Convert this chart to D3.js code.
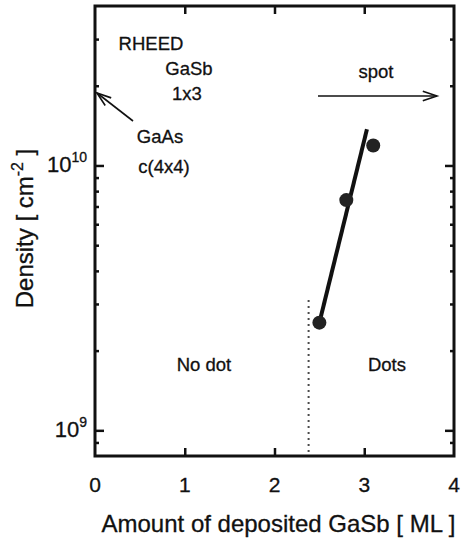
<!DOCTYPE html>
<html>
<head>
<meta charset="utf-8">
<script src="https://cdn.jsdelivr.net/npm/d3@7"></script>
<style>
  html, body { margin: 0; padding: 0; background: #fff; }
  svg { display: block; font-family: "Liberation Sans", Arial, Helvetica, sans-serif; }
</style>
</head>
<body>
<svg id="chart" width="461" height="542"></svg>
<script>
// ---- data ----
const xTicks = [0, 1, 2, 3, 4];
const yMajorTicks = [1e9, 1e10];
const yMinorTicks = [9e8, 2e9, 3e9, 4e9, 5e9, 6e9, 7e9, 8e9, 9e9, 2e10, 3e10];
const pointX = [2.5, 2.8, 3.1];
const pointY = [2.55e9, 7.4e9, 1.19e10];
const fitX = [2.5, 3.03];
const fitY = [2.55e9, 1.37e10];
const boundaryX = [2.38, 2.38];
const boundaryY = [3.1e9, 8e8];
const xDomain = [0, 4];
const yDomain = [8e8, 4e10];

// ---- layout ----
const L = 95, R = 454, T = 6, B = 456;
const svg = d3.select("#chart");
const x = d3.scaleLinear().domain(xDomain).range([L, R]);
const y = d3.scaleLog().domain(yDomain).range([B, T]);

const ink = "#111";

// ticks (inward) on all four sides
const gb = svg.append("g").attr("transform", `translate(0,${B})`)
  .call(d3.axisBottom(x).tickValues(xTicks.slice(1, -1)).tickSize(-8).tickFormat(""));
const gt = svg.append("g").attr("transform", `translate(0,${T})`)
  .call(d3.axisTop(x).tickValues(xTicks.slice(1, -1)).tickSize(-8).tickFormat(""));
const gl = svg.append("g").attr("transform", `translate(${L},0)`)
  .call(d3.axisLeft(y).tickValues(yMajorTicks).tickSize(-9).tickFormat(""));
const glm = svg.append("g").attr("transform", `translate(${L},0)`)
  .call(d3.axisLeft(y).tickValues(yMinorTicks).tickSize(-4).tickFormat(""));
const gr = svg.append("g").attr("transform", `translate(${R},0)`)
  .call(d3.axisRight(y).tickValues(yMajorTicks).tickSize(-9).tickFormat(""));
const grm = svg.append("g").attr("transform", `translate(${R},0)`)
  .call(d3.axisRight(y).tickValues(yMinorTicks).tickSize(-4).tickFormat(""));
[gb, gt, gl, glm, gr, grm].forEach(g => {
  g.select(".domain").remove();
  g.selectAll(".tick line").attr("stroke", ink).attr("stroke-width", 2.5);
});

// frame
svg.append("rect").attr("x", L).attr("y", T).attr("width", R - L).attr("height", B - T)
  .attr("fill", "none").attr("stroke", ink).attr("stroke-width", 3);

const textStyle = sel => sel.attr("fill", ink).attr("stroke", ink).attr("stroke-width", 0.3);

// x tick labels
svg.append("g").selectAll("text").data(xTicks).join("text")
  .attr("x", d => x(d)).attr("y", 492)
  .attr("text-anchor", "middle").attr("font-size", 21)
  .call(textStyle)
  .text(d => d);

// y tick labels 10^n
const yl = svg.append("g").selectAll("text").data(yMajorTicks).join("text")
  .attr("x", L - 8).attr("y", d => y(d) + 7)
  .attr("text-anchor", "end").attr("font-size", 22)
  .call(textStyle);
yl.append("tspan").text("10");
yl.append("tspan").attr("dy", -10).attr("font-size", 14).text(d => Math.round(Math.log10(d)));

// axis titles
svg.append("text").attr("x", (L + R) / 2 + 4).attr("y", 532)
  .attr("text-anchor", "middle").attr("font-size", 24)
  .call(textStyle)
  .text("Amount of deposited GaSb [ ML ]");
const yt = svg.append("text")
  .attr("transform", `translate(33,${(147 + 310) / 2}) rotate(-90)`)
  .attr("text-anchor", "middle").attr("font-size", 24)
  .call(textStyle);
yt.append("tspan").text("Density [ cm");
yt.append("tspan").attr("dy", -10).attr("font-size", 16).text("-2");
yt.append("tspan").attr("dy", 10).text(" ]");

// boundary (dotted)
svg.append("line")
  .attr("x1", x(boundaryX[0])).attr("y1", y(boundaryY[0]))
  .attr("x2", x(boundaryX[1])).attr("y2", y(boundaryY[1]))
  .attr("stroke", ink).attr("stroke-width", 2).attr("stroke-dasharray", "1.5,4.5");

// fit line
svg.append("path")
  .datum(fitX.map((v, i) => [v, fitY[i]]))
  .attr("d", d3.line().x(d => x(d[0])).y(d => y(d[1])))
  .attr("fill", "none").attr("stroke", ink).attr("stroke-width", 4);

// points
svg.append("g").selectAll("circle").data(pointX.map((v, i) => [v, pointY[i]])).join("circle")
  .attr("cx", d => x(d[0])).attr("cy", d => y(d[1])).attr("r", 7)
  .attr("fill", "#222");

// annotations
const ann = [
  { t: "RHEED", x: 151, y: 50 },
  { t: "GaSb", x: 189, y: 75 },
  { t: "1x3", x: 187, y: 100 },
  { t: "GaAs", x: 160, y: 143 },
  { t: "c(4x4)", x: 164, y: 173 },
  { t: "spot", x: 376, y: 78 },
  { t: "No dot", x: 204, y: 371 },
  { t: "Dots", x: 387, y: 371 }
];
svg.append("g").selectAll("text").data(ann).join("text")
  .attr("x", d => d.x).attr("y", d => d.y)
  .attr("text-anchor", "middle").attr("font-size", 18.5)
  .call(textStyle)
  .text(d => d.t);

// arrows
function arrow(x1, y1, x2, y2) {
  svg.append("line").attr("x1", x1).attr("y1", y1).attr("x2", x2).attr("y2", y2)
    .attr("stroke", ink).attr("stroke-width", 1.6);
  const a = Math.atan2(y2 - y1, x2 - x1), len = 15, w = 0.33;
  const p1 = [x2 - len * Math.cos(a - w), y2 - len * Math.sin(a - w)];
  const p2 = [x2 - len * Math.cos(a + w), y2 - len * Math.sin(a + w)];
  svg.append("path").attr("d", `M${p1}L${x2},${y2}L${p2}`)
    .attr("fill", "none").attr("stroke", ink).attr("stroke-width", 1.6);
}
arrow(133, 121, 97, 93);
arrow(318, 96, 437, 96);
</script>
</body>
</html>
